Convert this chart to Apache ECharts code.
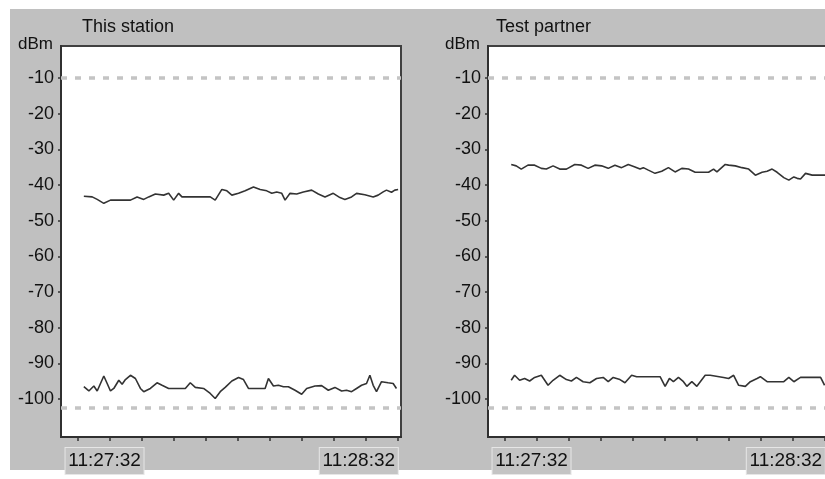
<!DOCTYPE html>
<html><head><meta charset="utf-8">
<script src="https://cdn.jsdelivr.net/npm/echarts@6/dist/echarts.min.js"></script>
<style>html,body{margin:0;padding:0;background:#fff}#c{width:825px;height:479px}</style>
</head><body><div id="c"></div>
<script>
// ---- data ----
const panelTitles = ['This station', 'Test partner'];
const yUnit = 'dBm';
const yTicks = [-10, -20, -30, -40, -50, -60, -70, -80, -90, -100];
const xTickSeconds = [0, 6, 12, 18, 24, 30, 36, 42, 48, 54, 60];
const xLabelSeconds = [0, 60];
const xLabelTexts = ['11:27:32', '11:28:32'];
const thresholdLines = [-10, -102.5];

const stationUpperTime = [1.18,2.74,3.68,4.92,6.17,9.91,11.15,12.40,13.33,14.58,16.14,17.07,18.01,18.94,19.56,24.86,25.79,27.04,27.98,28.91,30.16,31.40,32.96,34.21,35.45,36.39,37.32,38.26,38.88,39.81,41.06,42.31,43.86,45.11,46.36,47.91,49.16,50.09,51.34,52.27,53.83,55.39,56.32,57.26,57.88,58.82,59.44,60.06];
const stationUpperValue = [-43.1,-43.3,-44.0,-45.1,-44.2,-44.2,-43.3,-44.0,-43.3,-42.5,-42.8,-42.3,-44.2,-42.3,-43.3,-43.3,-44.2,-41.2,-41.6,-42.8,-42.3,-41.6,-40.5,-41.2,-41.6,-42.3,-41.9,-42.3,-44.2,-42.3,-42.5,-41.9,-41.4,-42.5,-43.3,-42.3,-43.5,-44.0,-43.3,-42.3,-42.7,-43.3,-42.8,-41.9,-41.4,-42.0,-41.4,-41.2];

const stationLowerTime = [1.18,2.12,3.05,3.68,4.30,4.92,5.55,6.17,6.79,7.73,8.35,8.97,9.91,10.84,11.78,12.40,13.64,14.89,15.83,17.07,20.19,21.12,22.06,23.61,24.86,25.79,26.73,27.66,28.91,30.16,31.09,32.02,35.14,35.76,36.70,37.63,38.57,39.50,40.75,41.99,42.93,44.49,45.73,46.98,48.22,49.47,50.40,51.34,52.27,53.21,54.14,54.77,55.39,56.01,56.95,58.19,59.13,59.75];
const stationLowerValue = [-96.5,-97.7,-96.3,-97.7,-95.6,-93.5,-95.6,-97.7,-97.0,-94.7,-95.8,-94.5,-93.3,-94.2,-97.0,-97.9,-97.0,-95.4,-96.1,-97.0,-97.0,-95.4,-96.7,-97.0,-98.4,-99.8,-97.9,-96.7,-94.9,-93.9,-94.5,-97.0,-97.0,-94.2,-96.3,-96.1,-96.5,-96.5,-97.5,-98.6,-97.0,-96.3,-96.2,-97.5,-96.7,-97.7,-97.5,-97.9,-97.0,-96.1,-95.6,-93.3,-96.1,-97.9,-95.1,-95.4,-95.6,-97.0];

const partnerUpperTime = [1.25,2.19,3.13,4.39,5.64,6.89,7.83,9.09,10.34,11.59,13.16,14.41,15.66,16.92,18.17,19.42,20.68,21.93,23.18,24.44,25.38,26.00,26.94,28.20,29.45,30.70,31.95,33.21,34.46,35.71,38.22,39.16,39.79,41.35,41.98,43.23,44.49,45.74,46.99,48.25,49.19,50.13,51.07,52.32,53.26,54.20,54.82,55.45,56.39,57.64,60.15];
const partnerUpperValue = [-34.2,-34.6,-35.5,-34.4,-34.4,-35.3,-35.5,-34.6,-35.5,-35.5,-34.2,-34.4,-35.3,-34.4,-34.6,-35.3,-34.4,-35.1,-34.2,-34.9,-35.5,-35.1,-35.8,-36.7,-36.1,-35.1,-36.3,-35.3,-35.5,-36.4,-36.4,-35.5,-36.3,-34.2,-34.4,-34.6,-35.1,-35.5,-37.2,-36.4,-36.1,-35.5,-36.4,-37.9,-38.6,-37.7,-38.1,-38.3,-36.7,-37.2,-37.2];

const partnerLowerTime = [1.25,1.88,2.82,3.76,4.70,5.64,6.89,8.15,9.09,10.34,11.59,12.53,13.47,14.72,15.98,17.23,18.48,19.42,20.36,21.62,22.56,23.81,24.75,29.14,30.08,30.89,31.64,32.58,33.52,34.15,35.09,36.03,37.59,38.53,41.04,41.98,42.92,43.86,45.11,46.05,47.31,47.93,49.19,52.32,53.26,54.20,55.45,59.21,59.96];
const partnerLowerValue = [-94.7,-93.3,-94.7,-94.2,-94.9,-93.9,-93.3,-96.1,-94.7,-93.3,-94.5,-94.9,-93.9,-95.1,-95.4,-94.2,-93.9,-95.1,-93.9,-94.5,-95.4,-93.3,-93.7,-93.7,-96.4,-94.2,-95.1,-93.9,-95.1,-96.4,-95.1,-96.4,-93.3,-93.3,-93.9,-94.2,-93.3,-96.1,-96.4,-95.1,-94.2,-93.7,-95.1,-95.1,-93.9,-95.1,-93.9,-93.9,-96.1];

// ---- chart ----
const FONT = "'Liberation Sans', Arial, sans-serif";
const zip = (t, v) => t.map((x, i) => [x, v[i]]);
const panelSeries = [
  [zip(stationUpperTime, stationUpperValue), zip(stationLowerTime, stationLowerValue)],
  [zip(partnerUpperTime, partnerUpperValue), zip(partnerLowerTime, partnerLowerValue)]
];
const gridLefts = [61, 488];

const chart = echarts.init(document.getElementById('c'), null, {renderer: 'canvas'});
const option = {
  animation: false,
  backgroundColor: '#ffffff',
  graphic: [{type: 'rect', z: -100, silent: true, shape: {x: 10, y: 9, width: 815, height: 461}, style: {fill: '#c0c0c0'}}],
  title: panelTitles.map((t, i) => ({
    text: t, left: gridLefts[i] + (i === 0 ? 21 : 8), top: 18, padding: 0,
    textStyle: {fontFamily: FONT, fontSize: 18, fontWeight: 'normal', color: '#111'}
  })),
  grid: gridLefts.map(l => ({
    left: l, top: 46, width: 340, height: 391, containLabel: false, outerBoundsMode: 'none',
    show: true, backgroundColor: '#ffffff', borderColor: '#404040', borderWidth: 2
  })),
  xAxis: gridLefts.map((l, i) => ({
    type: 'value', gridIndex: i, min: -3.1, max: 60.6,
    splitLine: {show: false},
    axisLine: {show: true, onZero: false, lineStyle: {color: '#303030', width: 2}},
    axisTick: {show: true, customValues: xTickSeconds, length: 4, lineStyle: {color: '#303030', width: 1.5}},
    axisLabel: {
      show: true, customValues: xLabelSeconds, margin: 11, align: 'center',
      formatter: v => {
        const k = xLabelSeconds.indexOf(v);
        return k === 0 ? '{sp| }{t|' + xLabelTexts[0] + '}' : '{t|' + xLabelTexts[k] + '}{sq| }';
      },
      rich: {
        t: {fontFamily: FONT, fontSize: 19, color: '#111', backgroundColor: '#c4c4c4', borderColor: '#e6e6e6', borderWidth: 1, width: 74, height: 20, padding: [3, 2, 3, 2], align: 'center'},
        sp: {width: 54, fontSize: 10},
        sq: {width: 78, fontSize: 10}
      }
    }
  })),
  yAxis: gridLefts.map((l, i) => ({
    type: 'value', gridIndex: i, min: -110.6, max: -1,
    name: yUnit, nameLocation: 'end', nameGap: 2,
    nameTextStyle: {fontFamily: FONT, fontSize: 17, color: '#111', align: 'right', verticalAlign: 'middle', padding: [0, 8, 0, 0]},
    splitLine: {show: false},
    axisLine: {show: true, onZero: false, lineStyle: {color: '#303030', width: 2}},
    axisTick: {show: true, customValues: yTicks, length: 3, lineStyle: {color: '#303030', width: 1.5}},
    axisLabel: {show: true, customValues: yTicks, margin: 7, fontFamily: FONT, fontSize: 18, color: '#111'}
  })),
  series: []
};
panelSeries.forEach((pair, i) => {
  pair.forEach((data, j) => {
    option.series.push({
      type: 'line', xAxisIndex: i, yAxisIndex: i, data: data, symbol: 'none', silent: true,
      lineStyle: {color: '#333333', width: 1.6},
      markLine: j === 0 ? {
        silent: true, symbol: ['none', 'none'], label: {show: false},
        lineStyle: {color: '#c4c4c4', width: 3.5, type: [6, 8]},
        data: thresholdLines.map(v => ({yAxis: v}))
      } : undefined
    });
  });
});
chart.setOption(option);
</script></body></html>
